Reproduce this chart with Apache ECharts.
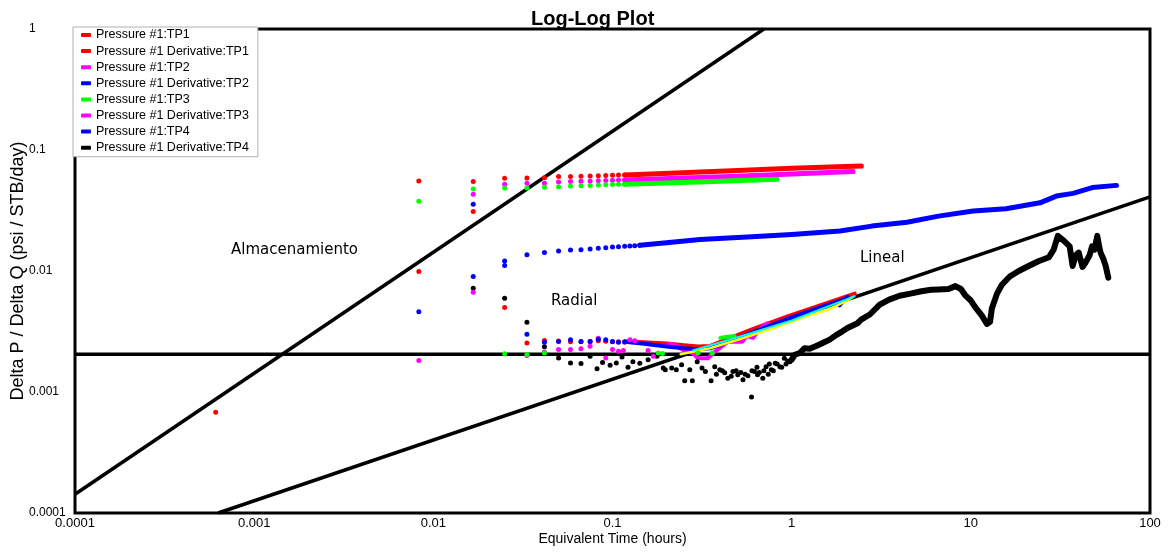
<!DOCTYPE html>
<html><head><meta charset="utf-8">
<script src="https://cdn.jsdelivr.net/npm/echarts@6/dist/echarts.min.js"></script>
<style>html,body{margin:0;padding:0;background:#fff}#c{width:1170px;height:552px}</style>
</head><body><div id="c"></div>
<script>
const xTickLabels = ['0.0001','0.001','0.01','0.1','1','10','100'];
const yTickLabels = ['0.0001','0.001','0.01','0.1','1'];
const legendNames = ['Pressure #1:TP1','Pressure #1 Derivative:TP1','Pressure #1:TP2','Pressure #1 Derivative:TP2','Pressure #1:TP3','Pressure #1 Derivative:TP3','Pressure #1:TP4','Pressure #1 Derivative:TP4'];

// reference straight lines (storage unit slope, radial flat, linear half slope)
const storageLine = [[0.0001,0.000143],[0.7,1.0]];
const radialLine = [[0.0001,0.00205],[100,0.00205]];
const linearLine = [[0.00063,0.0001],[100,0.041]];

// TP1 pressure (red)
const tp1Dots = [[0.0083,0.0555],[0.0167,0.0548],[0.025,0.0583],[0.0333,0.0587],[0.0417,0.059],[0.05,0.0603],[0.0583,0.0605],[0.0667,0.0608],[0.075,0.061],[0.0833,0.0613],[0.0917,0.0615],[0.1,0.0618],[0.108,0.062],[0.117,0.0622]];
const tp1Line = [[0.117,0.0622],[0.14,0.0627],[0.5,0.0677],[1.0,0.0705],[2.45,0.0738]];
// TP1 derivative (red)
const d1Dots = [[0.00061,0.00068],[0.0083,0.0099],[0.0167,0.031],[0.025,0.0050],[0.0333,0.00254],[0.0417,0.00266],[0.05,0.00264],[0.0583,0.0026],[0.0667,0.0026],[0.075,0.00262],[0.0833,0.00265],[0.0917,0.00263],[0.1,0.0026],[0.108,0.0026],[0.117,0.00258]];
const d1Line = [[0.117,0.00262],[0.15,0.00258],[0.2,0.00252],[0.25,0.00244],[0.3,0.00238],[0.35,0.0024],[0.4,0.0026],[0.6,0.0033],[0.94,0.0042],[1.44,0.0052],[2.25,0.0065]];
// TP2 pressure (magenta)
const tp2Dots = [[0.0167,0.043],[0.025,0.052],[0.0333,0.053],[0.0417,0.053],[0.05,0.0543],[0.0583,0.0548],[0.0667,0.0552],[0.075,0.0555],[0.0833,0.0557],[0.0917,0.056],[0.1,0.0562],[0.108,0.0564],[0.117,0.0565]];
const tp2Line = [[0.117,0.0565],[0.5,0.0607],[1.0,0.0633],[2.2,0.0664]];
// TP2 derivative (blue)
const d2Dots = [[0.0167,0.0357],[0.025,0.0121],[0.0333,0.003],[0.0417,0.00258],[0.05,0.00262],[0.0583,0.0027],[0.0667,0.00262],[0.075,0.00262],[0.0833,0.00273],[0.0917,0.0027],[0.1,0.00262],[0.108,0.00258],[0.117,0.0026]];
const d2Line = [[0.117,0.0026],[0.15,0.0025],[0.2,0.00238],[0.25,0.0023],[0.3,0.00226],[0.35,0.0023],[0.4,0.00245],[0.6,0.0031],[0.94,0.0040],[1.44,0.0050],[1.95,0.0058],[2.05,0.0061],[1.85,0.0052]];
// TP3 pressure (green)
const tp3Dots = [[0.0083,0.0377],[0.0167,0.0475],[0.025,0.0485],[0.0333,0.0486],[0.0417,0.0492],[0.05,0.0498],[0.0583,0.0503],[0.0667,0.0507],[0.075,0.051],[0.0833,0.0513],[0.0917,0.0516],[0.1,0.0518],[0.108,0.052],[0.117,0.0521]];
const tp3Line = [[0.117,0.0521],[0.3,0.0545],[0.83,0.0573]];
// TP3 derivative (magenta)
const d3Dots = [[0.0083,0.00182],[0.0167,0.00667],[0.0333,0.002],[0.0417,0.00214],[0.05,0.00224],[0.0583,0.00224],[0.0667,0.00228],[0.075,0.00239],[0.0833,0.00278],[0.0917,0.00191],[0.1,0.00224],[0.108,0.00217],[0.115,0.0022],[0.125,0.0027],[0.133,0.00265],[0.158,0.0022],[0.169,0.00197]];
const d3Line = [[0.2,0.0024],[0.21,0.0025],[0.23,0.0024],[0.25,0.0022],[0.28,0.0021],[0.30,0.0019],[0.34,0.0019],[0.38,0.0022],[0.44,0.0026],[0.53,0.0026],[0.56,0.0029],[0.61,0.0028],[0.66,0.0033],[0.73,0.0037]];
// TP4 pressure (blue)
const tp4Dots = [[0.0083,0.0046],[0.0167,0.009],[0.025,0.0111],[0.0333,0.0136],[0.0417,0.0142],[0.05,0.0146],[0.0583,0.0149],[0.0667,0.015],[0.075,0.0152],[0.0833,0.0154],[0.0917,0.0156],[0.1,0.0158],[0.108,0.0159],[0.117,0.016],[0.125,0.0161],[0.133,0.0162],[0.142,0.0163]];
const tp4Line = [[0.142,0.0163],[0.2,0.0171],[0.308,0.0182],[0.6,0.0192],[1.0,0.0200],[1.86,0.0214],[2.8,0.0235],[4.4,0.0253],[6.6,0.0284],[10.3,0.0313],[15.7,0.0327],[24.3,0.0366],[30,0.0416],[37.2,0.0438],[47.6,0.0489],[65,0.051]];
// TP4 derivative (black)
const d4Dots = [[0.0167,0.0072],[0.025,0.00595],[0.0333,0.00377],[0.0417,0.00237],[0.05,0.00191],[0.0583,0.00174],[0.0667,0.00172],[0.075,0.00197],[0.082,0.00156],[0.088,0.00175],[0.097,0.00166],[0.105,0.00174],[0.113,0.00195],[0.122,0.0016],[0.13,0.00178],[0.142,0.00173],[0.158,0.00185],[0.177,0.00197],[0.192,0.00158],[0.197,0.00153],[0.214,0.00158],[0.227,0.00153],[0.243,0.00168],[0.253,0.00124],[0.27,0.00153],[0.279,0.00124],[0.297,0.00178],[0.316,0.00158],[0.33,0.00148],[0.355,0.00124],[0.372,0.00162],[0.38,0.0014],[0.397,0.00153],[0.41,0.0015],[0.423,0.00144],[0.44,0.0013],[0.46,0.00135],[0.47,0.00148],[0.49,0.0015],[0.5,0.00139],[0.52,0.00145],[0.535,0.00126],[0.55,0.0014],[0.57,0.00136],[0.597,0.00091],[0.6,0.0015],[0.62,0.00148],[0.64,0.0016],[0.645,0.00139],[0.66,0.00145],[0.69,0.0013],[0.7,0.0015],[0.72,0.00162],[0.74,0.0014],[0.75,0.0017],[0.77,0.00153],[0.79,0.0015],[0.81,0.00173],[0.83,0.0017],[0.86,0.00162],[0.88,0.0016],[0.91,0.0019],[0.93,0.0017],[0.95,0.0018],[0.977,0.00178]];
const d4Line = [[1.0,0.00185],[1.04,0.00203],[1.11,0.0021],[1.18,0.0023],[1.26,0.00228],[1.37,0.0024],[1.49,0.00254],[1.63,0.00271],[1.77,0.00295],[1.92,0.00317],[2.05,0.00338],[2.33,0.0037],[2.44,0.00396],[2.73,0.00437],[3.1,0.00528],[3.5,0.0058],[4.0,0.00625],[4.6,0.0065],[5.3,0.0068],[6.0,0.0070],[6.6,0.00703],[7.5,0.0071],[8.2,0.0075],[8.8,0.0071],[9.3,0.0063],[10.0,0.0057],[10.6,0.0050],[11.5,0.0043],[12.3,0.00365],[12.8,0.0038],[13.1,0.0049],[14.0,0.0065],[14.9,0.0077],[16.5,0.0090],[18.5,0.0100],[21,0.0110],[24,0.0121],[27.3,0.013],[29,0.015],[30.6,0.0195],[33,0.0178],[35.6,0.016],[37,0.011],[38.5,0.0135],[40,0.0142],[42,0.0108],[43.6,0.0117],[46,0.0135],[47.5,0.016],[49,0.0150],[50.8,0.0195],[52,0.016],[53,0.0142],[55,0.0125],[56.6,0.011],[58.5,0.0088]];
// extra unlabelled derivative traces
const gDots = [[0.025,0.00207],[0.0333,0.00204],[0.0417,0.0021],[0.18,0.0021],[0.19,0.00208],[0.3,0.0021],[0.36,0.0021]];
const gLine = [[0.4,0.0028],[0.43,0.00285],[0.48,0.0029]];
const yellowLine = [[0.24,0.00205],[0.35,0.0023],[0.5,0.0027],[0.8,0.0034],[1.2,0.0042],[1.6,0.0048],[2.0,0.0056],[2.2,0.0061]];
const cyanLine = [[0.28,0.0022],[0.45,0.0027],[1.0,0.0039],[2.25,0.0062]];

const FONT = 'Liberation Sans, Arial, sans-serif';
function dots(name, data, color){
  return {name, type:'scatter', data, symbol:'circle', symbolSize:5, itemStyle:{color, opacity:1}, silent:true, z:3};
}
function band(name, data, color, w){
  return {name, type:'line', data, symbol:'none', showSymbol:false, silent:true,
    lineStyle:{color, width:w, cap:'round', join:'round', opacity:1}, itemStyle:{color, opacity:1}, z:3};
}
function refLine(name, data){
  return {name, type:'line', data, symbol:'none', silent:true, lineStyle:{color:'#000', width:3.5}, z:2};
}

const chart = echarts.init(document.getElementById('c'), null, {renderer:'canvas'});
chart.setOption({
  animation:false,
  backgroundColor:'#fff',
  title:{text:'Log-Log Plot', left:526, top:4, textStyle:{fontSize:20, fontWeight:'bold', color:'#000', fontFamily:FONT}},
  grid:{left:75, right:20, top:29, bottom:39, containLabel:false, outerBoundsMode:'none', show:true, borderColor:'#000', borderWidth:3, backgroundColor:'#fff'},
  legend:{
    data:legendNames, orient:'vertical', left:73, top:27, icon:'roundRect', itemWidth:10, itemHeight:4,
    itemGap:0.1, selectedMode:false, backgroundColor:'#fff', borderColor:'#b0b0b0', borderWidth:1,
    padding:[0,9,1,8], textStyle:{fontSize:12.5, lineHeight:16, color:'#000', fontFamily:FONT}, z:10
  },
  xAxis:{
    type:'log', logBase:10, min:0.0001, max:100,
    axisLine:{show:false}, axisTick:{show:false}, splitLine:{show:false}, minorTick:{show:false},
    axisLabel:{showMinLabel:true, showMaxLabel:true, fontSize:13, color:'#000', margin:4, fontFamily:FONT,
      formatter:v=>xTickLabels[Math.round(Math.log10(v))+4] ?? ''},
    name:'Equivalent Time (hours)', nameLocation:'middle', nameGap:19, nameMoveOverlap:false,
    nameTextStyle:{fontSize:14, color:'#000', fontFamily:FONT}
  },
  yAxis:{
    type:'log', logBase:10, min:0.0001, max:1,
    axisLine:{show:false}, axisTick:{show:false}, splitLine:{show:false}, minorTick:{show:false},
    axisLabel:{showMinLabel:true, showMaxLabel:true, fontSize:12, color:'#000', margin:46, align:'left', fontFamily:FONT,
      formatter:v=>yTickLabels[Math.round(Math.log10(v))+4] ?? ''},
    name:'Delta P / Delta Q (psi / STB/day)', nameLocation:'middle', nameGap:48, nameMoveOverlap:false,
    nameTextStyle:{fontSize:18, color:'#000', fontFamily:FONT}
  },
  graphic:[
    {type:'text', x:231, y:250, style:{text:'Almacenamiento', fontSize:15, fontFamily:'DejaVu Sans', fill:'#000', verticalAlign:'middle'}, z:5},
    {type:'text', x:551, y:301, style:{text:'Radial', fontSize:15, fontFamily:'DejaVu Sans', fill:'#000', verticalAlign:'middle'}, z:5},
    {type:'text', x:860, y:258, style:{text:'Lineal', fontSize:15, fontFamily:'DejaVu Sans', fill:'#000', verticalAlign:'middle'}, z:5}
  ],
  series:[
    refLine('storage', storageLine),
    refLine('radial', radialLine),
    refLine('linear', linearLine),
    dots(legendNames[7], d4Dots, '#000000'),
    band(legendNames[7], d4Line, '#000000', 6),
    dots(legendNames[6], tp4Dots, '#0000ff'),
    band(legendNames[6], tp4Line, '#0000ff', 5),
    dots(legendNames[0], tp1Dots, '#ff0000'),
    band(legendNames[0], tp1Line, '#ff0000', 5),
    dots(legendNames[2], tp2Dots, '#ff00ff'),
    band(legendNames[2], tp2Line, '#ff00ff', 5),
    dots(legendNames[4], tp3Dots, '#00ff00'),
    band(legendNames[4], tp3Line, '#00ff00', 5),
    dots(legendNames[1], d1Dots, '#ff0000'),
    band(legendNames[1], d1Line, '#ff0000', 4),
    dots(legendNames[5], d3Dots, '#ff00ff'),
    band(legendNames[5], d3Line, '#ff00ff', 4),
    dots(legendNames[3], d2Dots, '#0000ff'),
    band(legendNames[3], d2Line, '#0000ff', 4),
    dots('green derivative', gDots, '#00ff00'),
    band('green derivative', gLine, '#00ff00', 4),
    band('yellow derivative', yellowLine, '#ffff00', 2.5),
    band('cyan derivative', cyanLine, '#00ffff', 2)
  ]
});
</script></body></html>
